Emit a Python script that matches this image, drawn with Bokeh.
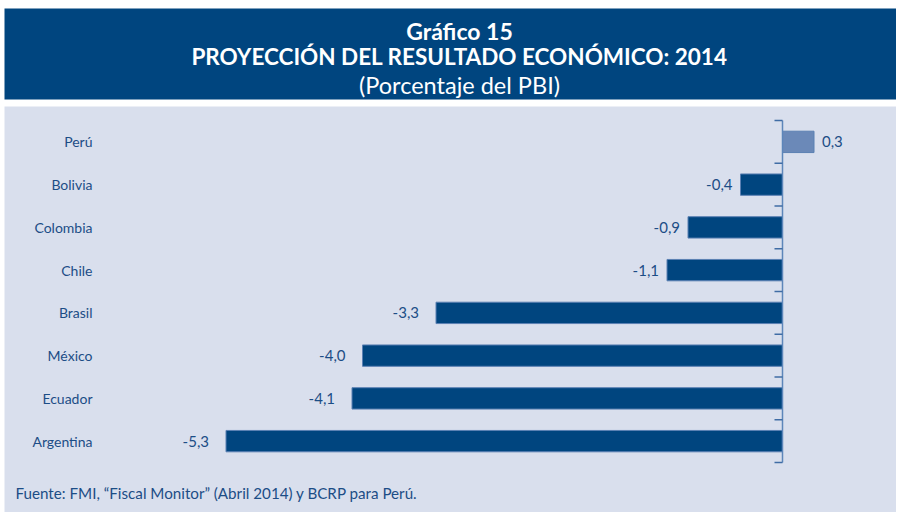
from bokeh.plotting import figure
from bokeh.models import ColumnDataSource, Range1d, Label, LabelSet, BoxAnnotation
from bokeh.core.properties import value
from bokeh.embed import file_html
from bokeh.resources import INLINE

# ---- data ----
countries = ["Perú", "Bolivia", "Colombia", "Chile", "Brasil", "México", "Ecuador", "Argentina"]
values = [0.3, -0.4, -0.9, -1.1, -3.3, -4.0, -4.1, -5.3]
title_lines = ["Gráfico 15", "PROYECCIÓN DEL RESULTADO ECONÓMICO: 2014", "(Porcentaje del PBI)"]
source_note = "Fuente: FMI, \u201cFiscal Monitor\u201d (Abril 2014) y BCRP para Perú."

n = len(countries)
ypos = [n - 0.5 - i for i in range(n)]
boundaries = list(range(n + 1))

# ---- style / layout (pixels) ----
W, H = 896, 512
ZERO_PX, PX_PER_UNIT = 782, 105
CAT_TOP, CAT_BOTTOM = 120, 462
FONT = "Lato"
HEADER_BG = "#00457f"
PANEL_BG = "#d9dfed"
BAR_DARK = "#00457f"
BAR_LIGHT = "#6b89b8"
TEXT_COL = "#1c4d86"
AXIS_COL = "#5d86ba"
TICK_COL = "#3f6ca5"

labels = [f"{v:.1f}".replace(".", ",") for v in values]
colors = [BAR_LIGHT if v > 0 else BAR_DARK for v in values]
aligns = ["left" if v > 0 else "right" for v in values]
offsets = [8 if v > 0 else (-8 if v > -2 else -17) for v in values]

src = ColumnDataSource(dict(y=ypos, country=countries, value=values, label=labels,
                            color=colors, align=aligns, xoff=offsets))

row_px = (CAT_BOTTOM - CAT_TOP) / n
x_range = Range1d(-ZERO_PX / PX_PER_UNIT, (W - ZERO_PX) / PX_PER_UNIT)
y_range = Range1d(-(H - CAT_BOTTOM) / row_px, n + CAT_TOP / row_px)

p = figure(width=W, height=H, output_backend="svg", toolbar_location=None,
           x_range=x_range, y_range=y_range,
           min_border_left=0, min_border_right=0, min_border_top=0, min_border_bottom=0,
           border_fill_color="white", background_fill_color="white",
           outline_line_color=None)
p.axis.visible = False
p.grid.visible = False

# header band and chart panel
p.add_layout(BoxAnnotation(left=4, right=W, top=H - 8, bottom=H - 99,
                           left_units="screen", right_units="screen",
                           top_units="screen", bottom_units="screen",
                           fill_color=HEADER_BG, fill_alpha=1, line_color=None, level="underlay"))
p.add_layout(BoxAnnotation(left=4, right=W, top=H - 106, bottom=0,
                           left_units="screen", right_units="screen",
                           top_units="screen", bottom_units="screen",
                           fill_color=PANEL_BG, fill_alpha=1, line_color=None, level="underlay"))

for txt, yy, size, style in zip(title_lines, [H - 30, H - 56, H - 84],
                                ["23px", "22.5px", "23.5px"], ["bold", "bold", "normal"]):
    p.add_layout(Label(x=459, y=yy, x_units="screen", y_units="screen", text=txt,
                       text_align="center", text_baseline="middle",
                       text_font=FONT, text_font_size=size, text_font_style=style,
                       text_color="white"))

# category labels
p.add_layout(LabelSet(x=92, x_units="screen", y="y", text="country", source=src,
                      text_align="right", text_baseline="middle", text_font=value(FONT),
                      text_font_size="14px", text_color=TEXT_COL))

# bars
p.hbar(y="y", left=0, right="value", height=0.5, fill_color="color",
       line_color="#5b80b3", line_width=1, source=src)

# zero axis with boundary ticks pointing left
p.segment(x0=0, x1=0, y0=boundaries[0], y1=boundaries[-1],
          line_color=AXIS_COL, line_width=1.5)
p.ray(x=0, y=boundaries, length=8, length_units="screen", angle=180, angle_units="deg",
      line_color=TICK_COL, line_width=1.5)

# value labels
p.text(x="value", y="y", text="label", x_offset="xoff", text_align="align",
       text_baseline="middle", text_font=value(FONT), text_font_size="15px",
       text_color=TEXT_COL, source=src)

# source note
p.add_layout(Label(x=15, y=H - 492, x_units="screen", y_units="screen", text=source_note,
                   text_align="left", text_baseline="middle", text_font=FONT,
                   text_font_size="15.2px", text_color=TEXT_COL))

open("out.html", "w").write(file_html(p, INLINE))
